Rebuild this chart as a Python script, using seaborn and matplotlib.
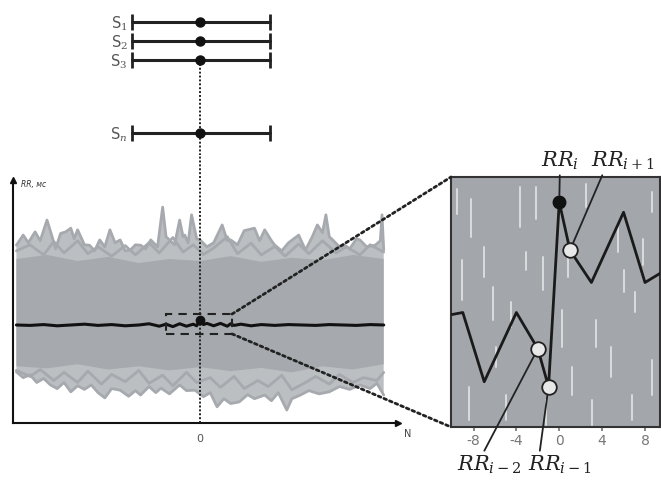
import matplotlib
matplotlib.use("Agg")
import matplotlib.pyplot as plt
from matplotlib.patches import Rectangle, ConnectionPatch
import seaborn as sns

# верхняя и нижняя огибающие пучка серых рядов (N, мс)
upper_n = [-54, -52, -50.5, -48.5, -47, -45, -43.5, -42.5, -41, -39.5, -38, -37, -36, -34,
           -32.5, -31, -29.5, -28, -26.5, -25, -23.5, -22, -20.5, -19, -17.5, -16, -14.5,
           -12.5, -11, -10, -9, -7.5, -6, -5, -4.5, -3.5, -2.5, -1, 0, 2, 4, 6.5, 8, 9, 11,
           13, 16, 17.5, 19, 21, 22, 24, 26, 29, 31, 33, 34.5, 36, 37, 38, 39, 41, 42.5, 44,
           46, 47, 49, 51.5, 53, 53.5, 54]
upper_ms = [939, 964, 945, 972, 950, 1001, 960, 930, 968, 972, 981, 955, 977, 940,
            939, 925, 952, 935, 977, 945, 952, 925, 927, 940, 939, 930, 952,
            935, 1033, 960, 952, 940, 1001, 960, 964, 945, 1014, 955, 952, 935, 945, 989, 950, 952, 940,
            975, 981, 950, 977, 950, 939, 925, 945, 964, 927, 960, 989, 970, 1014, 960, 952, 935, 939, 930,
            955, 952, 935, 939, 950, 1014, 927]
lower_n = [-54, -52, -50, -48, -46, -44, -42, -40, -38, -36, -34, -32, -30, -28, -26, -23.5,
           -21, -19, -17.5, -15, -13, -11.5, -9, -6, -4, -1.5, 1, 3, 5, 7, 9, 11.5, 14, 16,
           19, 21, 23, 25.5, 27, 29.5, 32, 35, 38, 41, 44, 47, 50, 52, 54]
lower_ms = [626, 612, 619, 600, 610, 594, 585, 600, 577, 592, 583, 594, 575, 562, 585, 581,
            566, 580, 569, 590, 575, 586, 572, 594, 580, 581, 565, 575, 540, 560, 548, 552, 570, 560,
            569, 555, 575, 532, 560, 569, 580, 572, 577, 590, 583, 594, 585, 598, 569]
# второй ряд траекторий у краёв пучка
inner_up_n = [-54, -50, -46, -43, -40, -36, -33, -30, -26, -22, -19, -15, -12, -8, -5, -2, 1,
              4, 8, 11, 15, 18, 22, 25, 29, 32, 36, 40, 43, 47, 50, 54]
inner_up_ms = [925, 940, 915, 948, 920, 950, 918, 935, 912, 938, 915, 945, 920, 958, 922, 940, 916,
               932, 960, 918, 944, 915, 936, 912, 942, 918, 950, 920, 935, 915, 940, 922]
inner_lo_n = [-54, -50, -47, -43, -40, -36, -33, -29, -26, -22, -18, -15, -11, -8, -4, -1, 3,
              6, 10, 13, 17, 20, 24, 27, 31, 34, 38, 41, 45, 48, 52, 54]
inner_lo_ms = [630, 615, 632, 605, 625, 600, 628, 596, 620, 602, 630, 598, 618, 592, 625, 600, 612,
               588, 615, 585, 605, 590, 618, 582, 600, 615, 596, 620, 600, 612, 605, 625]
# плотное ядро пучка
core_n = [-54, -45, -36, -27, -18, -9, 0, 9, 18, 27, 36, 45, 54]
core_hi = [905, 915, 900, 910, 895, 905, 900, 912, 898, 908, 902, 915, 905]
core_lo = [640, 635, 645, 632, 640, 630, 638, 628, 636, 625, 640, 632, 645]

# усреднённый ряд
mean_n = [-54, -50, -46, -42, -38, -34, -30, -26, -22, -18, -15, -12, -10, -8, -6, -4, -2, -1, 0,
          1, 2, 4, 6, 8, 9, 10, 12, 15, 18, 22, 26, 30, 34, 38, 42, 46, 50, 54]
mean_ms = [742, 741, 743, 740, 742, 744, 741, 743, 740, 742, 745, 739, 744, 738, 745, 739, 744, 740, 754,
           743, 746, 740, 746, 739, 745, 741, 744, 740, 743, 741, 743, 742, 741, 743, 742, 741, 743, 742]

# фрагмент в увеличении (i-10 ... i+10), относительные единицы
zoom_n = [-10, -9, -7, -4, -2, -1, 0, 1, 3, 6, 8, 10]
zoom_v = [45.0, 45.8, 18.1, 45.8, 31.3, 16.1, 90.0, 70.7, 57.8, 85.9, 57.8, 63.0]
# светлые штрихи на фоне увеличенного фрагмента
streak_n = [-8.2, -9.1, -6.2, -5.9, -3.7, -3.1, -2.2, 0.3, 1.2, 3.4, 4.8, 6.0, 7.1, 8.7, 8.7,
            6.8, 3.1, -1.2, -5.0, -8.4, -7.0, -1.5, 2.5, 5.5, -9.5, -4.5, 7.8, 0.8]
streak_lo = [76, 51, 43, 24, 80, 63, 83, 32, 13, 32, 20, 54, 46, 86, 13, 3, 1, 1, 3, 3, 60, 55, 88, 70, 85, 40, 65, 60]
streak_hi = [91, 67, 56, 32, 96, 70, 96, 47, 24, 43, 32, 63, 54, 94, 27, 13, 11, 11, 13, 16, 72, 68, 97, 80, 95, 50, 75, 72]

segments = ["S$_1$", "S$_2$", "S$_3$", "S$_n$"]
seg_row = [1, 2, 3, 6.85]
seg_start, seg_end = -20.1, 20.6

rr_labels = ["$RR_i$", "$RR_{i+1}$", "$RR_{i-2}$", "$RR_{i-1}$"]

sns.set_theme(style="white")
plt.rcParams["font.family"] = ["DejaVu Sans"]
plt.rcParams["mathtext.fontset"] = "dejavuserif"
plt.rcParams["axes.unicode_minus"] = False

W, H = 661, 483
fig = plt.figure(figsize=(W / 100, H / 100), dpi=100)


def px_box(l, t, r, b):
    return [l / W, 1 - b / H, (r - l) / W, (b - t) / H]


gray = "#a6aaae"

# --- основной график ---
ax = fig.add_axes(px_box(13, 180, 398, 423))
ax.set_xlim(-55, 58.2)
ax.set_ylim(500, 1100)
for s in ["top", "right"]:
    ax.spines[s].set_visible(False)
for s in ["left", "bottom"]:
    ax.spines[s].set_color("#111")
    ax.spines[s].set_linewidth(1.5)
ax.plot([1], [0], marker=">", color="#111", ms=5, transform=ax.transAxes, clip_on=False)
ax.plot([0], [1], marker="^", color="#111", ms=5, transform=ax.transAxes, clip_on=False)
ax.set_yticks([])
ax.set_xticks([0])
ax.set_xticklabels(["0"], fontsize=8, color="#555")
ax.tick_params(axis="x", length=0, pad=8)

ax.fill(upper_n + lower_n[::-1], upper_ms + lower_ms[::-1], color=gray, alpha=0.75, lw=0, zorder=1)
ax.fill(core_n + core_n[::-1], core_hi + core_lo[::-1], color=gray, lw=0, zorder=1)
for xs, ys in [(upper_n, upper_ms), (lower_n, lower_ms), (inner_up_n, inner_up_ms), (inner_lo_n, inner_lo_ms)]:
    sns.lineplot(x=xs, y=ys, ax=ax, color=gray, lw=2, estimator=None, zorder=2)

ax.plot([0, 0], [500, 1162], color="#222", lw=1.4, ls=(0, (1, 1)), clip_on=False, zorder=3)
sns.lineplot(x=mean_n, y=mean_ms, ax=ax, color="#111", lw=2.2, estimator=None, zorder=4)
ax.plot([0], [mean_ms[mean_n.index(0)]], "o", color="#111", ms=6, zorder=5)

x0, x1 = -10.1, 9.4
y0, y1 = 720, 769
ax.add_patch(Rectangle((x0, y0), x1 - x0, y1 - y0, fill=False, ls=(0, (4, 3)),
                       lw=1.5, ec="#222", zorder=5))

fig.text(21 / W, 1 - 185 / H, "RR, мс", style="italic", fontsize=5.5, color="#333", va="center")
fig.text(408 / W, 1 - 434 / H, "N", fontsize=7, color="#444", ha="center", va="center")

# --- отрезки S ---
ax_s = fig.add_axes(px_box(13, 3, 398, 155))
ax_s.set_xlim(-55, 58.2)
ax_s.set_ylim(8, 0)
ax_s.axis("off")
ax_s.plot([0, 0], [3, 8], color="#222", lw=1.4, ls=(0, (1, 1)), clip_on=False)
for lab, r in zip(segments, seg_row):
    ax_s.plot([seg_start, seg_end], [r, r], color="#222", lw=2.2)
    ax_s.plot([seg_start, seg_end], [r, r], "|", color="#222", ms=11, mew=2)
    ax_s.plot([0], [r], "o", color="#111", ms=6.5)
    ax_s.text(seg_start - 1.2, r + 0.1, lab, ha="right", va="center", fontsize=10.5, color="#555")

# --- увеличенный фрагмент ---
ax_z = fig.add_axes(px_box(451, 177, 660, 427))
ax_z.set_facecolor("#a3a7ab")
ax_z.set_xlim(x0, x1)
ax_z.set_ylim(0, 100)
ax_z.set_yticks([])
ax_z.set_xticks([-8, -4, 0, 4, 8])
ax_z.tick_params(axis="x", colors="#777", labelsize=10, length=3, pad=2, direction="out", bottom=True)
for s in ax_z.spines.values():
    s.set_color("#333")
    s.set_linewidth(1.5)
for sx, lo, hi in zip(streak_n, streak_lo, streak_hi):
    ax_z.plot([sx, sx], [lo, hi], color="white", lw=1.4, alpha=0.6, solid_capstyle="round")

sns.lineplot(x=zoom_n, y=zoom_v, ax=ax_z, color="#1a1a1a", lw=2, estimator=None, zorder=3)
open_idx = [zoom_n.index(k) for k in (-2, -1, 1)]
sns.scatterplot(x=[zoom_n[k] for k in open_idx], y=[zoom_v[k] for k in open_idx], ax=ax_z,
                s=110, color="#e8e8e8", edgecolor="#222", linewidth=1.3, zorder=4)
i0 = zoom_n.index(0)
ax_z.plot([0], [zoom_v[i0]], "o", color="#111", ms=9, zorder=5)

# подписи RR с выносками
arrow = dict(arrowstyle="-", color="#222", lw=1.3, shrinkA=0, shrinkB=5)
pts = [(0, zoom_v[i0]), (1, zoom_v[zoom_n.index(1)]),
       (-2, zoom_v[zoom_n.index(-2)]), (-1, zoom_v[zoom_n.index(-1)])]
txt_pos = [(541, 172, "bottom", 0.5), (591, 172, "bottom", 0.2),
           (457, 454, "top", 0.4), (528, 454, "top", 0.18)]
for lab, p, (tx, ty, va, rx) in zip(rr_labels, pts, txt_pos):
    ax_z.annotate(lab, xy=p, xytext=(tx / W, 1 - ty / H), textcoords="figure fraction",
                  ha="left", va=va, fontsize=15, color="#222", annotation_clip=False,
                  arrowprops=dict(arrow, relpos=(rx, 0 if va == "bottom" else 1)))

# пунктирные линии к увеличению
for ya, yb in [(y1, 1), (y0, 0)]:
    con = ConnectionPatch(xyA=(x1, ya), coordsA=ax.transData, xyB=(0, yb), coordsB=ax_z.transAxes,
                          color="#222", lw=2, ls=(0, (1, 1.2)))
    fig.add_artist(con)

fig.savefig("out.png", dpi=100)
